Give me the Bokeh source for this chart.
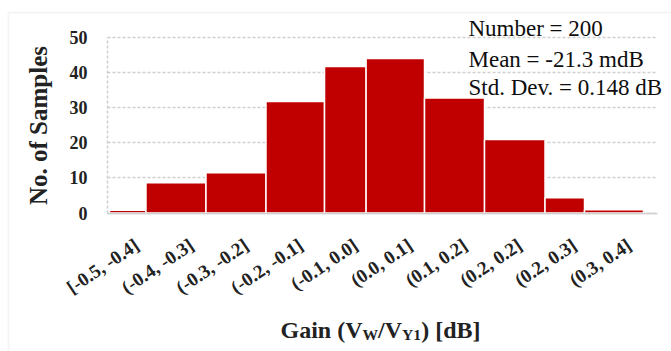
from bokeh.plotting import figure
from bokeh.models import Range1d, FixedTicker, Label, BoxAnnotation, ColumnDataSource, Grid
from bokeh.embed import file_html
from bokeh.resources import INLINE

# ---- data ----
bin_labels = ["[-0.5, -0.4]", "(-0.4, -0.3]", "(-0.3, -0.2]", "(-0.2, -0.1]", "(-0.1, 0.0]",
              "(0.0, 0.1]", "(0.1, 0.2]", "(0.2, 0.2]", "(0.2, 0.3]", "(0.3, 0.4]"]
counts = [0.8, 8.6, 11.4, 31.7, 41.6, 43.9, 32.7, 20.9, 4.3, 0.9]
# bar edges along the category axis (bars in the source figure have uneven widths)
bin_edges = [0, 0.667, 1.764, 2.861, 3.931, 4.691, 5.759, 6.856, 7.962, 8.684, 9.762]
y_ticks = [0, 10, 20, 30, 40, 50]
stats_lines = ["Number = 200", "Mean = -21.3 mdB", "Std. Dev. = 0.148 dB"]

W, H = 671, 351
AL, AR, AT, AB = 107, 657, 36.5, 212.5   # plot area (px)
PXU = 54.7          # px per category unit
X0 = 109            # px of category 0
PYU = (AB - AT) / 50.0


def xd(px):
    return (px - X0) / PXU


def yd(py):
    return (AB - py) / PYU


p = figure(width=W, height=H, output_backend="svg", toolbar_location=None,
           x_range=Range1d(xd(0), xd(W)), y_range=Range1d(yd(H), yd(0)),
           min_border=0)
p.outline_line_color = None
p.background_fill_color = "white"
p.border_fill_color = "white"

src = ColumnDataSource(dict(left=bin_edges[:-1], right=bin_edges[1:],
                            top=counts, bottom=[0] * len(counts)))
p.quad(left="left", right="right", top="top", bottom="bottom", source=src,
       fill_color="#C00000", line_color="white", line_width=1.5)

# grid
p.xgrid.grid_line_color = None
yg = p.ygrid[0]
yg.ticker = FixedTicker(ticks=y_ticks)
yg.grid_line_color = "#cfcfcf"
yg.grid_line_dash = "3 2"
yg.grid_line_width = 1.5
yg.bounds = (0, 50)
if "cross_bounds" in Grid.properties():
    yg.cross_bounds = (xd(AL), xd(AR))

# y axis (fixed inside the frame, takes no panel space)
yax = p.yaxis[0]
yax.fixed_location = xd(AL)
yax.bounds = (0, 50)
yax.ticker = FixedTicker(ticks=y_ticks)
yax.axis_line_color = "#cfcfcf"
yax.axis_line_dash = "3 2"
yax.axis_line_width = 1.5
yax.major_tick_line_color = None
yax.minor_tick_line_color = None
yax.major_label_standoff = 14
yax.major_label_text_font = "Liberation Serif"
yax.major_label_text_font_style = "bold"
yax.major_label_text_font_size = "18px"
yax.major_label_text_color = "#222222"
yax.axis_label = "No. of Samples"
yax.axis_label_text_font = "Liberation Serif"
yax.axis_label_text_font_style = "bold"
yax.axis_label_text_font_size = "25px"
yax.axis_label_text_color = "#222222"
yax.axis_label_standoff = 15

# x axis
xax = p.xaxis[0]
xax.fixed_location = 0
xax.bounds = (xd(AL), xd(AR))
centers = [i + 0.5 for i in range(len(bin_labels))]
xax.ticker = FixedTicker(ticks=centers)
xax.major_label_overrides = {c: lab for c, lab in zip(centers, bin_labels)}
xax.major_label_orientation = 0.593
xax.major_label_standoff = 24
xax.major_label_text_font = "Liberation Serif"
xax.major_label_text_font_style = "bold"
xax.major_label_text_font_size = "19px"
xax.major_label_text_color = "#222222"
xax.axis_line_color = "#cfcfcf"
xax.axis_line_width = 1.5
xax.major_tick_line_color = None
xax.minor_tick_line_color = None

# x axis title with subscripts
FS = 24
SFS = 15.6
pieces = [("Gain (V", FS, 0), ("W", SFS, 1), ("/V", FS, 0), ("Y1", SFS, 1), (") [dB]", FS, 0)]
em = {"Gain (V": 3.417, "W": 1.0, "/V": 1.0, "Y1": 1.222, ") [dB]": 2.472}
cx = 280
for txt, fs, sub in pieces:
    base = 329 + (5 if sub else 0)
    p.add_layout(Label(x=xd(cx), y=yd(base), text=txt, text_font="Liberation Serif",
                       text_font_style="bold", text_font_size=f"{fs}px",
                       text_color="#222222", text_align="left", text_baseline="alphabetic"))
    cx += em[txt] * fs

# statistics text
for line, py in zip(stats_lines, [28.3, 59.3, 87.3]):
    p.add_layout(Label(x=xd(468), y=yd(py), text=line, text_font="Liberation Serif",
                       text_font_size="23px", text_color="#0d0d0d",
                       text_align="left", text_baseline="alphabetic"))

# outer chart border
p.add_layout(BoxAnnotation(left=xd(8), right=xd(720), top=yd(12), bottom=yd(420),
                           fill_alpha=0, line_color="#d9d9d9", line_width=2))

open("out.html", "w").write(file_html(p, INLINE))
